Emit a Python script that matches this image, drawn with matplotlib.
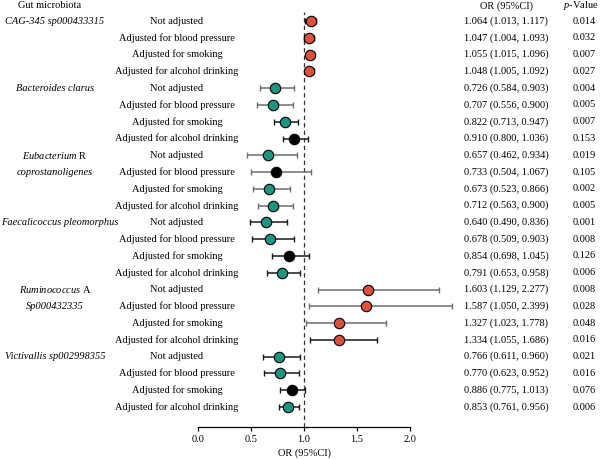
import matplotlib
matplotlib.use("Agg")
import matplotlib.pyplot as plt
import matplotlib.transforms as mtransforms

# Font setup (serif, Times-like)
plt.rcParams['font.family'] = ['Liberation Serif', 'DejaVu Serif']
plt.rcParams['mathtext.fontset'] = 'custom'
plt.rcParams['mathtext.rm'] = 'Liberation Serif'
plt.rcParams['mathtext.it'] = 'Liberation Serif:italic'

# Data
# each species label: list of (line text, is mathtext-mixed)
species = [["CAG-345 sp000433315"],
           ["Bacteroides clarus"],
           [r"$\mathit{Eubacterium}$ R", "coprostanoligenes"],
           ["Faecalicoccus pleomorphus"],
           [r"$\mathit{Ruminococcus}$ A", "Sp000432335"],
           ["Victivallis sp002998355"]]
adjustments = ["Not adjusted", "Adjusted for blood pressure",
               "Adjusted for smoking", "Adjusted for alcohol drinking"]

or_vals = [1.064, 1.047, 1.055, 1.048,
           0.726, 0.707, 0.822, 0.910,
           0.657, 0.733, 0.673, 0.712,
           0.640, 0.678, 0.854, 0.791,
           1.603, 1.587, 1.327, 1.334,
           0.766, 0.770, 0.886, 0.853]
ci_low = [1.013, 1.004, 1.015, 1.005,
          0.584, 0.556, 0.713, 0.800,
          0.462, 0.504, 0.523, 0.563,
          0.490, 0.509, 0.698, 0.653,
          1.129, 1.050, 1.023, 1.055,
          0.611, 0.623, 0.775, 0.761]
ci_high = [1.117, 1.093, 1.096, 1.092,
           0.903, 0.900, 0.947, 1.036,
           0.934, 1.067, 0.866, 0.900,
           0.836, 0.903, 1.045, 0.958,
           2.277, 2.399, 1.778, 1.686,
           0.960, 0.952, 1.013, 0.956]
p_vals = ["0.014", "0.032", "0.007", "0.027",
          "0.004", "0.005", "0.007", "0.153",
          "0.019", "0.105", "0.002", "0.005",
          "0.001", "0.008", "0.126", "0.006",
          "0.008", "0.028", "0.048", "0.016",
          "0.021", "0.016", "0.076", "0.006"]
# whisker shade per row (gray or near black), as seen in the picture
whisker_dark = [1, 1, 1, 1,
                0, 0, 1, 1,
                0, 0, 0, 0,
                1, 1, 1, 1,
                0, 0, 0, 1,
                1, 1, 1, 1]

red = '#dc5040'
teal = '#1f9480'

fig = plt.figure(figsize=(6, 4.59), dpi=100)
ax = fig.add_axes([198 / 600, 1 - 427 / 459, 262 / 600, 415 / 459])

n = len(or_vals)
for i in range(n):
    p = float(p_vals[i])
    if p > 0.05:
        mc = 'black'
    elif or_vals[i] > 1:
        mc = red
    else:
        mc = teal
    wc = '#1a1a1a' if whisker_dark[i] else '#6e6e6e'
    ax.errorbar(or_vals[i], i,
                xerr=[[or_vals[i] - ci_low[i]], [ci_high[i] - or_vals[i]]],
                fmt='none', ecolor=wc, elinewidth=1.1, capsize=2.5,
                capthick=1.0, zorder=2)
    ax.plot(or_vals[i], i, 'o', color=mc, markeredgecolor='black',
            markeredgewidth=0.8, markersize=7.5, zorder=3)

ax.axvline(1.0, color='#333333', linestyle=(0, (3.5, 2.5)), linewidth=0.9,
           zorder=1)

ax.set_xlim(0, 262 / 106)
ax.set_ylim(24.19, -0.54)
ax.set_yticks([])
for s in ['top', 'right', 'left']:
    ax.spines[s].set_visible(False)
ax.spines['bottom'].set_bounds(0, 2)
ax.spines['bottom'].set_linewidth(0.9)
ax.set_xticks([0.0, 0.5, 1.0, 1.5, 2.0])
ax.set_xticklabels(["0.0", "0.5", "1.0", "1.5", "2.0"])
ax.tick_params(axis='x', labelsize=7.5, length=3, width=0.9, pad=3)
ax.set_xlabel("OR (95%CI)", fontsize=7.5)
ax.xaxis.set_label_coords(1.0 * 106 / 262, -0.052)

# Text columns: x in figure fraction, y in data rows
trans = mtransforms.blended_transform_factory(fig.transFigure, ax.transData)
fs = 7.5
for g, lines in enumerate(species):
    for k, line in enumerate(lines):
        y = g * 4 + k
        if "$" in line:
            # mixed italic / upright label
            ax.text(55 / 600, y, line, transform=trans, ha='center',
                    va='center', fontsize=fs)
        elif len(line) > 24:
            ax.text(1 / 600, y, line, transform=trans, ha='left',
                    va='center', fontsize=fs, style='italic')
        else:
            ax.text(55 / 600, y, line, transform=trans, ha='center',
                    va='center', fontsize=fs, style='italic')
for i in range(n):
    ax.text(177 / 600, i, adjustments[i % 4], transform=trans,
            ha='center', va='center', fontsize=fs)
    ax.text(506 / 600, i, "%.3f (%.3f, %.3f)" % (or_vals[i], ci_low[i],
            ci_high[i]), transform=trans, ha='center', va='center',
            fontsize=fs)
    ax.text(584 / 600, i, p_vals[i], transform=trans, ha='center',
            va='center', fontsize=fs)

# Headers
fig.text(50 / 600, 1 - 6 / 459, "Gut microbiota", ha='center', va='center',
         fontsize=fs)
fig.text(506 / 600, 1 - 6 / 459, "OR (95%CI)", ha='center', va='center',
         fontsize=fs)
fig.text(599 / 600, 1 - 6 / 459, r"$p$-Value", ha='right', va='center',
         fontsize=fs)

fig.savefig("out.png", dpi=100)
